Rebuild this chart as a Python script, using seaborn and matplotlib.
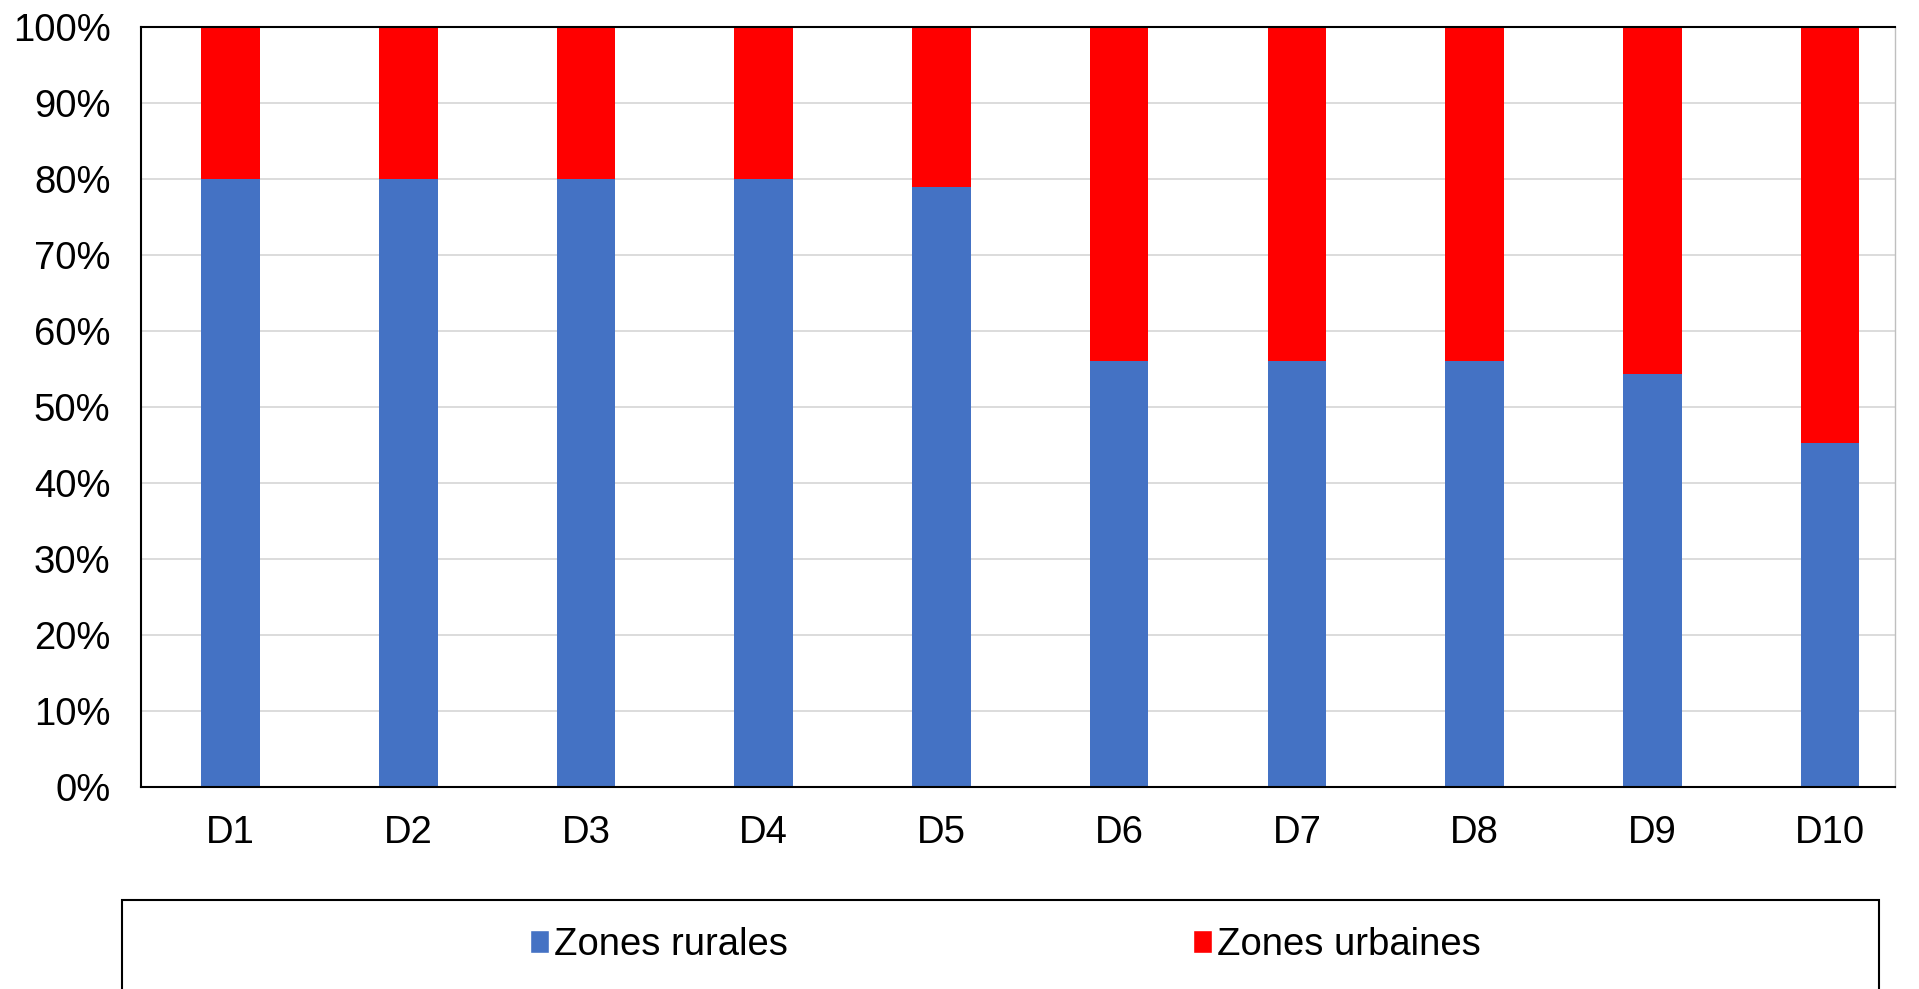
import matplotlib
matplotlib.use("Agg")
import matplotlib.pyplot as plt
import seaborn as sns
import pandas as pd
from matplotlib.patches import Rectangle, Patch
from matplotlib.ticker import PercentFormatter

# deciles and share of each zone (in %)
deciles = ["D1", "D2", "D3", "D4", "D5", "D6", "D7", "D8", "D9", "D10"]
rurales = [80.0, 80.0, 80.0, 80.0, 78.9, 56.0, 56.0, 56.0, 54.4, 45.3]
urbaines = [100 - r for r in rurales]

blue = "#4472C4"
red = "#FF0000"

df = pd.DataFrame({"decile": deciles, "rurales": rurales, "urbaines": urbaines})
df["total"] = df["rurales"] + df["urbaines"]

sns.set_style("white")
plt.rcParams["font.family"] = ["Liberation Sans", "DejaVu Sans"]
plt.rcParams["text.color"] = "black"
plt.rcParams["xtick.color"] = "black"
plt.rcParams["ytick.color"] = "black"

fs = 27.5

fig = plt.figure(figsize=(19.19, 9.89), dpi=100)
ax = fig.add_axes([0.0735, 0.2042, 0.914, 0.7685])

# stacked bars: total (urban on top) then rural underneath
sns.barplot(data=df, x="decile", y="total", color=red, width=0.33,
            saturation=1, ax=ax, edgecolor="none")
sns.barplot(data=df, x="decile", y="rurales", color=blue, width=0.33,
            saturation=1, ax=ax, edgecolor="none")

ax.set_ylim(0, 100)
ax.set_xlim(-0.503, 9.365)
ax.set_yticks(range(0, 101, 10))
ax.yaxis.set_major_formatter(PercentFormatter(decimals=0))
ax.grid(axis="y", color="#d9d9d9", linewidth=1.3)
ax.set_axisbelow(True)
ax.set_xlabel("")
ax.set_ylabel("")
ax.tick_params(axis="both", length=0, labelsize=fs, labelcolor="black")
ax.tick_params(axis="x", pad=20)
ax.tick_params(axis="y", pad=22)

for side in ["left", "bottom", "top"]:
    ax.spines[side].set_color("black")
    ax.spines[side].set_linewidth(1.5)
ax.spines["right"].set_color("#bfbfbf")
ax.spines["right"].set_linewidth(1.0)

# legend box at the bottom
fig.patches.append(Rectangle((0.0636, -0.05), 0.9156, 0.14, transform=fig.transFigure,
                             facecolor="white", edgecolor="black", linewidth=1.5))
handles = [Patch(facecolor=blue, label="Zones rurales"),
           Patch(facecolor=red, label="Zones urbaines")]
fig.legend(handles=handles, loc="center", bbox_to_anchor=(0.524, 0.0445), ncol=2,
           frameon=False, fontsize=fs, handlelength=0.5, handleheight=0.55,
           handletextpad=0.13, columnspacing=10.6)

fig.savefig("out.png", dpi=100)
